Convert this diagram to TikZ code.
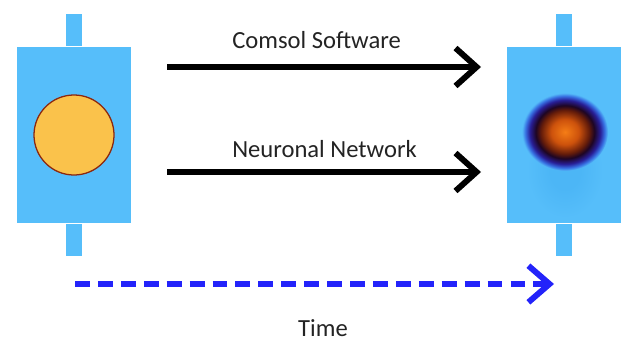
\documentclass[tikz,border=0pt]{standalone}
\usepackage{fontspec}
\setmainfont{Carlito}
\usetikzlibrary{positioning,arrows.meta,shapes.geometric}

\definecolor{devblue}{RGB}{86,190,250}
\definecolor{dropfill}{RGB}{250,194,75}
\definecolor{dropline}{RGB}{140,40,15}
\definecolor{timeblue}{RGB}{35,35,250}
\definecolor{textgray}{RGB}{35,35,35}
\definecolor{hotcore}{RGB}{245,125,22}
\definecolor{hotmid}{RGB}{205,82,12}
\definecolor{hotbrown}{RGB}{100,28,10}
\definecolor{hotblack}{RGB}{30,5,35}
\definecolor{hotnavy}{RGB}{40,30,150}
\definecolor{hotblue}{RGB}{55,110,225}
\definecolor{trailblue}{RGB}{76,182,246}

% temperature field after heating (path edge sits at 25bp)
\pgfdeclareradialshading{hotspot}{\pgfpoint{0bp}{0bp}}{%
  color(0bp)=(hotcore); color(8bp)=(hotmid); color(14bp)=(hotbrown);
  color(17bp)=(hotblack); color(20.5bp)=(hotnavy); color(23bp)=(hotblue);
  color(25bp)=(devblue); color(50bp)=(devblue)}
\pgfdeclareradialshading{trail}{\pgfpoint{0bp}{0bp}}{%
  color(0bp)=(trailblue); color(10bp)=(trailblue); color(25bp)=(devblue);
  color(50bp)=(devblue)}

\begin{document}
\begin{tikzpicture}[
    x=0.025cm, y=-0.025cm,
    % sample holder
    device/.style={
        fill=devblue,
        inner sep=0pt,
        minimum width=2.85cm,
        minimum height=4.4cm
    },
    stub/.style={
        fill=devblue,
        inner sep=0pt,
        minimum width=0.4cm,
        minimum height=0.82cm
    },
    txt/.style={
        font=\fontsize{17.5}{21}\selectfont,
        text=textgray,
        inner sep=0pt
    },
    % method arrows
    flow/.style={
        line width=4.2pt,
        -{Straight Barb[length=15pt, width=27pt]}
    },
    timeline/.style={
        timeblue,
        line width=4.2pt,
        dash pattern=on 10.6pt off 5.7pt,
        -{Straight Barb[length=15pt, width=26pt]}
    }
]
    \useasboundingbox (0,0) rectangle (622,341);

    % Holder before
    \node[device] (before) at (74,135) {};
    \node[stub, above=0pt of before] (beforetop) {};
    \node[stub, below=0pt of before] (beforebot) {};
    \node[circle, fill=dropfill, draw=dropline, line width=0.9pt,
          minimum size=2cm, inner sep=0pt] (drop) at (74,135) {};

    % Holder after
    \node[device] (after) at (564,135) {};
    \node[stub, above=0pt of after] (aftertop) {};
    \node[stub, below=0pt of after] (afterbot) {};
    \node[ellipse, shading=trail, minimum width=1.9cm, minimum height=2.4cm,
          inner sep=0pt] (wake) at (565,170) {};
    \node[ellipse, shading=hotspot, minimum width=2.15cm, minimum height=1.95cm,
          inner sep=0pt] (spot) at (565,132) {};

    % Methods
    \coordinate (simstart) at (167,67);
    \coordinate (simend) at (481,67);
    \coordinate (netstart) at (167,172);
    \coordinate (netend) at (481,172);
    \draw[flow] (simstart) -- (simend);
    \draw[flow] (netstart) -- (netend);
    \node[txt, anchor=base west] (sim) at (232,49) {Comsol Software};
    \node[txt, anchor=base west] (net) at (232,157) {Neuronal Network};

    % Time axis
    \coordinate (tstart) at (75,284);
    \coordinate (tend) at (554,284);
    \draw[timeline] (tstart) -- (tend);
    \node[txt, anchor=base] (time) at (323,336) {Time};
\end{tikzpicture}
\end{document}
